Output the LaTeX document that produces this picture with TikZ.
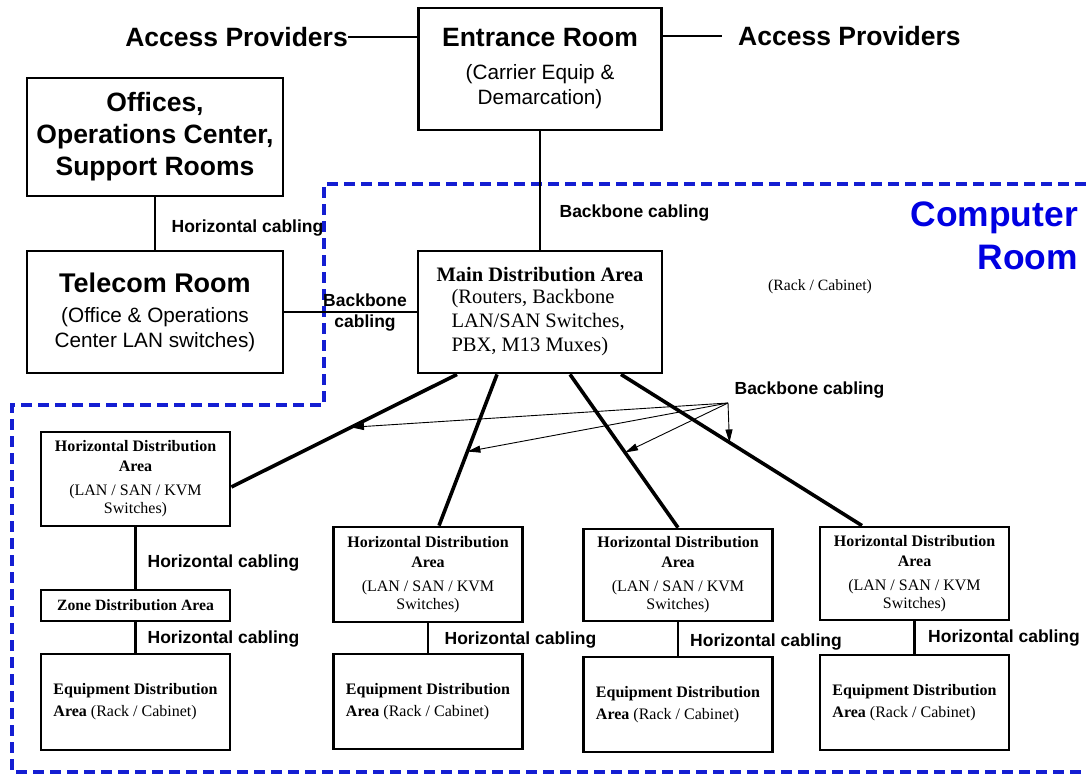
\documentclass[tikz,border=0pt]{standalone}
\usepackage{fontspec}
\setmainfont{Liberation Sans}
\newfontfamily\tnr{Liberation Serif}
\usetikzlibrary{arrows.meta,calc}
\definecolor{roomblue}{RGB}{0,0,225}
\definecolor{dashblue}{RGB}{20,30,210}
\begin{document}
\begin{tikzpicture}[x=1pt,y=-1pt,
  box/.style={draw, line width=2.8pt, inner sep=0pt, align=center},
  sansbox/.style={box, font=\fontsize{20.75}{25}\selectfont},
  hdabox/.style={box, minimum width=189pt, font=\tnr\fontsize{16}{19}\selectfont},
  edabox/.style={box, minimum width=189pt, minimum height=95pt, align=left, font=\tnr\fontsize{16}{22}\selectfont},
  lbl/.style={inner sep=0pt, font=\bfseries\fontsize{17.5}{21}\selectfont},
  aplbl/.style={inner sep=0pt, font=\bfseries\fontsize{26.5}{30}\selectfont},
  thinconn/.style={line width=2pt},
  conn/.style={line width=2.6pt},
  bbline/.style={line width=3.6pt},
  arr/.style={line width=0.9pt, -{Triangle[length=13pt,width=7pt]}},
  roomline/.style={draw=dashblue, line width=3.5pt, dash pattern=on 11pt off 6pt}
]
\useasboundingbox (0,0) rectangle (1086,776);

% computer room boundary
\draw[roomline] (1086,184) -- (324,184) -- (324,405) -- (12,405) -- (12,772) -- (1086,772);

% top boxes
\node[sansbox, minimum width=243pt, minimum height=122pt] (ent) at (540,69)
  {{\bfseries\fontsize{26.5}{30}\selectfont Entrance Room}\\[8pt](Carrier Equip \&\\Demarcation)};
\node[box, minimum width=256pt, minimum height=118pt, font=\bfseries\fontsize{26.5}{32}\selectfont] (off) at (155,137)
  {Offices,\\Operations Center,\\Support Rooms};
\node[sansbox, minimum width=256pt, minimum height=122pt] (tel) at (155,312)
  {{\bfseries\fontsize{27}{30}\selectfont Telecom Room}\\[5pt](Office \& Operations\\Center LAN switches)};
\node[box, align=left, minimum width=244pt, minimum height=122pt, font=\tnr\fontsize{20.5}{24}\selectfont] (mda) at (540,312)
  {{\bfseries Main Distribution Area}\\[-2pt]\hspace*{15pt}(Routers, Backbone\\\hspace*{15pt}LAN/SAN Switches,\\\hspace*{15pt}PBX, M13 Muxes)};

% labels
\node[aplbl, anchor=east] (apL) at (348,37) {Access Providers};
\node[aplbl, anchor=west] (apR) at (738,36) {Access Providers};
\node[lbl] (hc0) at (247.5,228) {Horizontal cabling};
\node[lbl, align=center] (bb1) at (365,313) {Backbone\\cabling};
\node[lbl] (bb2) at (634.5,213) {Backbone cabling};
\node[lbl] (bb3) at (809.5,390) {Backbone cabling};
\node[inner sep=0pt, anchor=east, align=right, text=roomblue, font=\bfseries\fontsize{35.4}{43}\selectfont] (room) at (1078,236) {Computer\\Room};
\node[inner sep=0pt, font=\tnr\fontsize{15.7}{19}\selectfont] (rack) at (820,287) {(Rack / Cabinet)};

% bottom boxes
\node[hdabox, minimum height=94pt] (hda1) at (135.5,479)
  {{\bfseries Horizontal Distribution}\\[1pt]{\bfseries Area}\\[5pt](LAN / SAN / KVM\\[-1pt]Switches)};
\node[box, minimum width=189pt, minimum height=31pt, font=\tnr\bfseries\fontsize{15.7}{19}\selectfont] (zda) at (135.5,605.5)
  {Zone Distribution Area};
\node[edabox, minimum height=96pt] (eda1) at (135.5,702)
  {{\bfseries Equipment Distribution}\\{\bfseries Area} (Rack / Cabinet)};

\node[hdabox, minimum height=95pt] (hda2) at (428,574.5)
  {{\bfseries Horizontal Distribution}\\[1pt]{\bfseries Area}\\[5pt](LAN / SAN / KVM\\[-1pt]Switches)};
\node[edabox] (eda2) at (428,701.5)
  {{\bfseries Equipment Distribution}\\{\bfseries Area} (Rack / Cabinet)};

\node[hdabox, minimum height=92pt] (hda3) at (678,575)
  {{\bfseries Horizontal Distribution}\\[1pt]{\bfseries Area}\\[5pt](LAN / SAN / KVM\\[-1pt]Switches)};
\node[edabox] (eda3) at (678,704.5)
  {{\bfseries Equipment Distribution}\\{\bfseries Area} (Rack / Cabinet)};

\node[hdabox, minimum height=93pt] (hda4) at (914.5,573.5)
  {{\bfseries Horizontal Distribution}\\[1pt]{\bfseries Area}\\[5pt](LAN / SAN / KVM\\[-1pt]Switches)};
\node[edabox] (eda4) at (914.5,702.5)
  {{\bfseries Equipment Distribution}\\{\bfseries Area} (Rack / Cabinet)};

\node[lbl] (hc1) at (223.5,563) {Horizontal cabling};
\node[lbl] (hc2) at (223.5,639) {Horizontal cabling};
\node[lbl] (hc3) at (520.5,640) {Horizontal cabling};
\node[lbl] (hc4) at (766,642) {Horizontal cabling};
\node[lbl] (hc5) at (1004,638) {Horizontal cabling};

% connectors top
\draw[conn] (apL.east) -- (apL.east -| ent.west);
\draw[conn] (ent.east |- apR.west) -- ([xshift=-16pt]apR.west);
\draw[thinconn] (ent) -- (mda);
\draw[thinconn] (off) -- (tel);
\draw[conn] (tel) -- (mda);

% backbone lines
\coordinate (m1) at ([xshift=-83pt]mda.south);
\coordinate (m2) at ([xshift=-43pt]mda.south);
\coordinate (m3) at ([xshift=30pt]mda.south);
\coordinate (m4) at ([xshift=81pt]mda.south);
\coordinate (h1) at ([yshift=-8pt]hda1.east);
\coordinate (h2) at ([xshift=11pt]hda2.north);
\coordinate (h3) at (hda3.north);
\coordinate (h4) at ([xshift=-52.5pt]hda4.north);
\draw[bbline] (m1) -- (h1);
\draw[bbline] (m2) -- (h2);
\draw[bbline] (m3) -- (h3);
\draw[bbline] (m4) -- (h4);

% arrows from label
\coordinate (apex) at (728,403);
\draw[arr] (apex) -- ($(m1)!0.47!(h1)$);
\draw[arr] (apex) -- ($(m2)!0.51!(h2)$);
\draw[arr] (apex) -- ($(m3)!0.51!(h3)$);
\draw[arr] (apex) -- ($(m4)!0.45!(h4)$);

% vertical horizontal-cabling connectors
\draw[conn] (hda1) -- (zda);
\draw[conn] (zda) -- (eda1);
\draw[conn] (hda2) -- (eda2);
\draw[conn] (hda3) -- (eda3);
\draw[conn] (hda4) -- (eda4);
\end{tikzpicture}
\end{document}
